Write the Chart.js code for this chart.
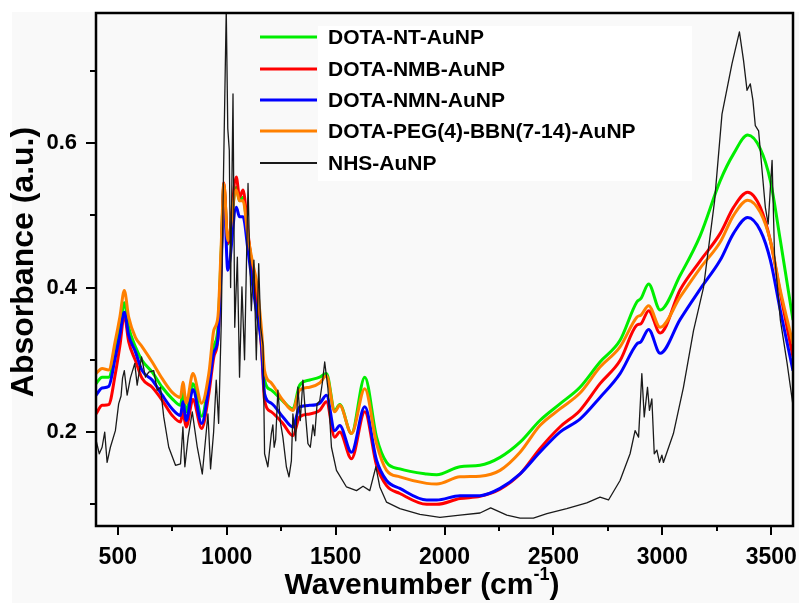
<!DOCTYPE html>
<html><head><meta charset="utf-8">
<script src="https://cdn.jsdelivr.net/npm/chart.js@4.4.1/dist/chart.umd.min.js"></script>
<style>html,body{margin:0;padding:0;background:#fff}</style>
</head><body>
<canvas id="c" width="799" height="603"></canvas>
<script>
// ---------- data ----------
const seriesLabels = ["DOTA-NT-AuNP", "DOTA-NMB-AuNP", "DOTA-NMN-AuNP", "DOTA-PEG(4)-BBN(7-14)-AuNP", "NHS-AuNP"];
const xTickValues = [500, 1000, 1500, 2000, 2500, 3000, 3500];
const yTickValues = [0.2, 0.4, 0.6];

const wavenumbers = [400,428,458,489,510,530,550,581,612,658,704,750,788,799,814,845,885,918,941,960,975,987,1005,1044,1059,1075,1098,1120,1136,1159,1174,1205,1258,1304,1335,1381,1427,1458,1496,1519,1573,1634,1688,1734,1795,1918,1964,2071,2163,2255,2347,2438,2530,2622,2714,2806,2883,2902,2937,2990,3082,3174,3266,3327,3392,3450,3496,3542,3600];

const ntAuNP = [0.267,0.276,0.276,0.313,0.345,0.379,0.345,0.318,0.299,0.283,0.262,0.246,0.237,0.255,0.228,0.267,0.222,0.270,0.318,0.345,0.450,0.540,0.460,0.539,0.520,0.525,0.470,0.425,0.400,0.330,0.272,0.258,0.243,0.232,0.265,0.272,0.276,0.281,0.230,0.238,0.198,0.276,0.193,0.158,0.149,0.142,0.141,0.152,0.154,0.165,0.186,0.216,0.239,0.262,0.297,0.327,0.380,0.385,0.405,0.369,0.417,0.472,0.548,0.585,0.611,0.592,0.548,0.465,0.355];

const nmbAuNP = [0.225,0.237,0.238,0.281,0.320,0.362,0.325,0.299,0.274,0.262,0.244,0.223,0.214,0.228,0.207,0.245,0.205,0.253,0.304,0.330,0.440,0.545,0.461,0.553,0.525,0.535,0.475,0.420,0.390,0.320,0.244,0.228,0.212,0.195,0.221,0.225,0.230,0.242,0.193,0.200,0.163,0.228,0.154,0.126,0.115,0.100,0.100,0.108,0.111,0.121,0.142,0.177,0.207,0.230,0.267,0.299,0.348,0.350,0.368,0.337,0.397,0.437,0.475,0.511,0.532,0.511,0.465,0.392,0.304];

const nmnAuNP = [0.251,0.261,0.263,0.304,0.335,0.366,0.334,0.311,0.285,0.272,0.251,0.232,0.223,0.242,0.216,0.259,0.212,0.262,0.310,0.330,0.430,0.535,0.424,0.511,0.498,0.498,0.451,0.401,0.368,0.323,0.253,0.240,0.221,0.207,0.235,0.237,0.240,0.251,0.202,0.209,0.172,0.235,0.161,0.133,0.122,0.106,0.106,0.112,0.112,0.122,0.142,0.172,0.200,0.218,0.248,0.281,0.322,0.325,0.342,0.309,0.356,0.398,0.438,0.475,0.497,0.479,0.438,0.368,0.285];

const pegBbnAuNP = [0.281,0.288,0.286,0.327,0.360,0.396,0.359,0.331,0.318,0.297,0.274,0.255,0.248,0.269,0.240,0.281,0.240,0.281,0.341,0.360,0.460,0.544,0.465,0.535,0.520,0.520,0.470,0.433,0.410,0.345,0.285,0.268,0.244,0.230,0.258,0.262,0.268,0.278,0.228,0.237,0.198,0.260,0.184,0.147,0.138,0.129,0.128,0.138,0.139,0.147,0.172,0.209,0.232,0.254,0.290,0.318,0.359,0.362,0.375,0.345,0.387,0.427,0.463,0.500,0.521,0.504,0.465,0.396,0.322];

const nhsWavenumbers = [400,415,428,440,451,466,489,504,515,522,530,543,558,578,589,609,627,642,665,681,696,711,734,765,788,799,808,823,842,865,888,903,914,926,940,952,963,975,985,998,1005,1012,1018,1029,1037,1049,1059,1070,1082,1098,1105,1113,1125,1136,1147,1156,1167,1174,1189,1205,1212,1218,1225,1235,1246,1258,1274,1286,1297,1304,1317,1327,1338,1350,1363,1373,1384,1396,1404,1415,1427,1440,1450,1465,1481,1504,1550,1596,1626,1657,1685,1703,1734,1795,1887,1979,2071,2163,2212,2286,2347,2408,2470,2561,2653,2714,2753,2806,2852,2875,2891,2906,2917,2932,2941,2952,2963,2975,2987,2998,3005,3051,3097,3143,3189,3240,3274,3297,3320,3354,3373,3389,3404,3416,3427,3442,3458,3473,3486,3504,3515,3542,3573,3600];

const nhsAuNP = [0.189,0.170,0.179,0.200,0.158,0.179,0.202,0.239,0.250,0.275,0.285,0.251,0.275,0.295,0.265,0.304,0.276,0.283,0.285,0.258,0.262,0.221,0.179,0.154,0.156,0.207,0.152,0.193,0.228,0.179,0.142,0.190,0.225,0.149,0.200,0.272,0.212,0.350,0.550,0.785,0.620,0.590,0.400,0.668,0.345,0.442,0.276,0.401,0.300,0.544,0.450,0.368,0.438,0.300,0.433,0.345,0.320,0.170,0.152,0.198,0.210,0.179,0.190,0.258,0.215,0.193,0.152,0.138,0.160,0.225,0.188,0.262,0.216,0.272,0.220,0.184,0.179,0.210,0.195,0.239,0.243,0.270,0.297,0.260,0.179,0.147,0.124,0.119,0.125,0.119,0.152,0.124,0.103,0.094,0.086,0.082,0.085,0.088,0.095,0.085,0.081,0.081,0.087,0.094,0.102,0.110,0.106,0.133,0.170,0.202,0.193,0.281,0.221,0.262,0.230,0.246,0.170,0.175,0.158,0.168,0.158,0.198,0.262,0.340,0.400,0.520,0.640,0.675,0.710,0.754,0.714,0.673,0.682,0.659,0.624,0.617,0.562,0.511,0.488,0.576,0.447,0.355,0.295,0.237];

// ---------- build ----------
const pts = (xs, ys) => xs.map((x, i) => ({x: x, y: ys[i]}));
const colors = ['#00ee00', '#ff0000', '#0000ff', '#ff8000', '#1a1a1a'];
const widths = [3, 3, 3, 3, 1.3];
const drawOrder = [4, 3, 2, 1, 0];
const seriesData = [pts(wavenumbers, ntAuNP), pts(wavenumbers, nmbAuNP), pts(wavenumbers, nmnAuNP), pts(wavenumbers, pegBbnAuNP), pts(nhsWavenumbers, nhsAuNP)];

const datasets = seriesLabels.map((lab, i) => ({
  label: lab,
  data: seriesData[i],
  borderColor: colors[i],
  backgroundColor: colors[i],
  borderWidth: widths[i],
  pointRadius: 0,
  fill: false,
  order: drawOrder[i],
  tension: 0,
  cubicInterpolationMode: i < 4 ? 'monotone' : 'default',
  borderJoinStyle: 'round'
}));

const FONT = "'Liberation Sans', Arial, sans-serif";

const decor = {
  id: 'decor',
  beforeDraw(chart) {
    const ctx = chart.ctx;
    ctx.save();
    ctx.fillStyle = '#ffffff';
    ctx.fillRect(0, 0, chart.width, chart.height);
    ctx.fillStyle = '#f9f9f9';
    ctx.fillRect(12, 12, chart.width - 12, chart.height - 12);
    ctx.restore();
  },
  afterDraw(chart) {
    const ctx = chart.ctx;
    const a = chart.chartArea;
    const xs = chart.scales.x, ys = chart.scales.y;
    ctx.save();
    // frame
    ctx.strokeStyle = '#000';
    ctx.lineWidth = 2.5;
    ctx.strokeRect(a.left, a.top, a.right - a.left, a.bottom - a.top);
    // ticks
    ctx.lineWidth = 2;
    ctx.beginPath();
    for (let v = 500; v <= 3500; v += 250) {
      const px = Math.round(xs.getPixelForValue(v));
      const len = (v % 500 === 0) ? 9 : 5;
      ctx.moveTo(px, a.bottom); ctx.lineTo(px, a.bottom + len);
    }
    for (let k = 1; k <= 7; k++) {
      const v = k / 10;
      const py = Math.round(ys.getPixelForValue(v));
      const len = (k % 2 === 0) ? 10 : 6;
      ctx.moveTo(a.left, py); ctx.lineTo(a.left - len, py);
    }
    ctx.stroke();
    // axis titles
    ctx.fillStyle = '#000';
    ctx.font = 'bold 32px ' + FONT;
    ctx.textBaseline = 'middle';
    ctx.textAlign = 'center';
    ctx.save();
    ctx.translate(24, 262);
    ctx.rotate(-Math.PI / 2);
    ctx.fillText('Absorbance (a.u.)', 0, 0);
    ctx.restore();
    // x title with superscript
    const p1 = 'Wavenumber (cm', sup = '-1', p3 = ')';
    ctx.font = 'bold 30px ' + FONT;
    const w1 = ctx.measureText(p1).width, w3 = ctx.measureText(p3).width;
    ctx.font = 'bold 18px ' + FONT;
    const w2 = ctx.measureText(sup).width;
    let x0 = 422 - (w1 + w2 + w3) / 2;
    ctx.textAlign = 'left';
    ctx.textBaseline = 'alphabetic';
    ctx.font = 'bold 30px ' + FONT;
    ctx.fillText(p1, x0, 594);
    ctx.font = 'bold 18px ' + FONT;
    ctx.fillText(sup, x0 + w1, 580);
    ctx.font = 'bold 30px ' + FONT;
    ctx.fillText(p3, x0 + w1 + w2, 594);
    // legend
    ctx.fillStyle = '#ffffff';
    ctx.fillRect(318, 26, 374, 155);
    const rows = [37, 69, 100, 131, 163];
    chart.data.datasets.forEach((ds, i) => {
      ctx.strokeStyle = ds.borderColor;
      ctx.lineWidth = i < 4 ? 3 : 2;
      ctx.beginPath();
      ctx.moveTo(260, rows[i]); ctx.lineTo(317, rows[i]);
      ctx.stroke();
      ctx.fillStyle = '#000';
      ctx.font = 'bold 21px ' + FONT;
      ctx.textBaseline = 'middle';
      ctx.textAlign = 'left';
      ctx.fillText(ds.label, 328, rows[i] + 1);
    });
    ctx.restore();
  }
};

new Chart(document.getElementById('c'), {
  type: 'line',
  data: { datasets: datasets },
  options: {
    responsive: false,
    animation: false,
    devicePixelRatio: 1,
    layout: { autoPadding: false, padding: { left: 0, right: 6, top: 13, bottom: 0 } },
    plugins: { legend: { display: false }, tooltip: { enabled: false } },
    scales: {
      x: {
        type: 'linear', min: 400, max: 3600,
        afterBuildTicks: s => { s.ticks = xTickValues.map(v => ({value: v})); },
        afterFit: s => { s.height = 77; s.paddingLeft = 0; s.paddingRight = 0; },
        grid: { display: false, drawTicks: false },
        border: { display: false },
        ticks: { color: '#000', font: { family: FONT, size: 23, weight: 'bold' }, padding: 18, maxRotation: 0, autoSkip: false, callback: v => String(v) }
      },
      y: {
        type: 'linear', min: 0.07, max: 0.78,
        afterBuildTicks: s => { s.ticks = yTickValues.map(v => ({value: v})); },
        afterFit: s => { s.width = 96; s.paddingTop = 0; s.paddingBottom = 0; },
        grid: { display: false, drawTicks: false },
        border: { display: false },
        ticks: { color: '#000', font: { family: FONT, size: 22, weight: 'bold' }, padding: 19, callback: v => Number(v).toFixed(1) }
      }
    }
  },
  plugins: [decor]
});
</script>
</body></html>
